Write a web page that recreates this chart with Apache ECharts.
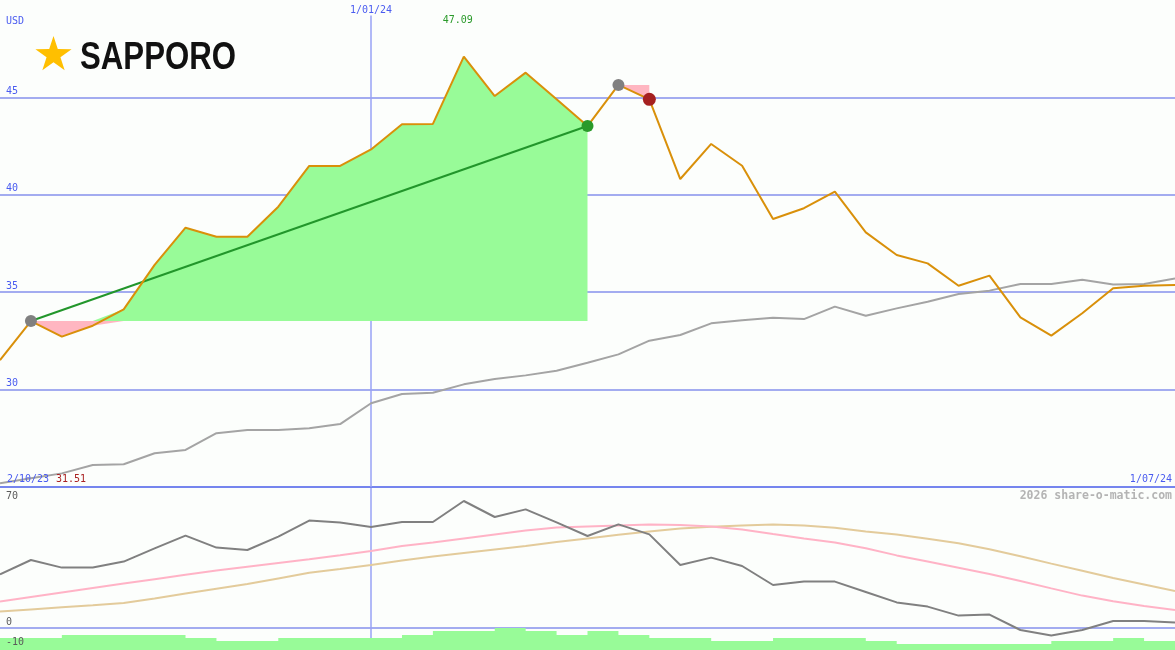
<!DOCTYPE html>
<html><head><meta charset="utf-8">
<script src="https://cdn.jsdelivr.net/npm/echarts@6/dist/echarts.min.js"></script>
<style>html,body{margin:0;padding:0;background:#fcfefc;}#c{width:1175px;height:650px;}</style>
</head><body><div id="c"></div>
<script>
// ---- data ----
const dates = ['2/10/23','9/10/23','16/10/23','23/10/23','30/10/23','6/11/23','13/11/23','20/11/23','27/11/23','4/12/23','11/12/23','18/12/23',
  '1/01/24','8/01/24','15/01/24','22/01/24','29/01/24','5/02/24','12/02/24','19/02/24','26/02/24','4/03/24','11/03/24','18/03/24','25/03/24',
  '1/04/24','8/04/24','15/04/24','22/04/24','29/04/24','6/05/24','13/05/24','20/05/24','27/05/24','3/06/24','10/06/24','17/06/24','24/06/24','1/07/24'];
const price = [31.51,33.52,32.72,33.28,34.12,36.40,38.31,37.85,37.85,39.39,41.48,41.48,42.33,43.62,43.64,47.09,45.07,46.27,44.90,43.53,
  45.64,44.90,40.81,42.61,41.49,38.76,39.31,40.16,38.07,36.91,36.48,35.33,35.85,33.71,32.77,33.92,35.20,35.33,35.37];
const priceAvg = [25.19,25.45,25.70,26.13,26.17,26.73,26.90,27.76,27.93,27.93,28.01,28.23,29.30,29.77,29.84,30.27,30.54,30.73,30.97,31.38,
  31.81,32.51,32.80,33.40,33.56,33.69,33.62,34.26,33.79,34.17,34.51,34.91,35.08,35.42,35.42,35.64,35.39,35.42,35.71];
const osc = [26.8,34.0,30.2,30.2,33.2,39.8,46.2,40.2,39.0,45.7,53.7,52.7,50.5,53.0,53.0,63.5,55.5,59.3,52.8,46.0,
  51.8,46.8,31.5,35.2,31.0,21.5,23.2,23.2,18.0,12.8,10.7,6.2,6.7,-1.0,-3.8,-1.0,3.5,3.5,2.7];
const oscPink = [13.2,15.5,17.8,20.0,22.2,24.4,26.6,28.7,30.6,32.5,34.4,36.4,38.5,41.0,42.7,44.8,46.8,48.7,50.2,50.8,
  51.2,51.8,51.5,50.8,49.3,47.0,44.8,42.8,39.9,36.3,33.2,30.1,27.0,23.5,19.8,16.2,13.4,11.0,9.0];
const oscTan = [8.2,9.3,10.4,11.4,12.5,14.8,17.2,19.6,22.0,24.8,27.6,29.5,31.5,33.8,35.7,37.5,39.3,41.0,43.0,44.8,
  46.6,48.2,49.7,50.6,51.3,51.7,51.2,50.1,48.3,46.7,44.6,42.4,39.4,35.9,32.2,28.6,25.0,21.8,18.5];
const hist = [12,12,15,15,15,15,12,9,9,12,12,12,12,15,19,19,22,19,15,19,15,12,12,9,9,12,12,12,9,6,6,6,6,6,9,9,12,9,9];
const priceTicks = [30,35,40,45];
const oscTickLabels = ['70','0','-10'];
const trades = [{start:1,end:19,win:true},{start:20,end:21,win:false}];
const currency = 'USD';
const brand = 'SAPPORO';
const credit = '2026 share-o-matic.com';

// ---- build ----
const MONO = '"DejaVu Sans Mono", monospace';
const BLUE = '#4a5cf0';
const GRID = '#a3acf0';
const VLINE = '#98a2f6';
const series = [];
// reference lines (under everything)
series.push({type:'line', xAxisIndex:0, yAxisIndex:0, symbol:'none', silent:true, z:1, data:[], lineStyle:{opacity:0},
  markLine:{silent:true, symbol:['none','none'], animation:false, z:1,
    data: priceTicks.map(v=>({yAxis:v, lineStyle:{color:GRID, width:2, type:'solid'}, label:{show:false}})).concat([
      [{coord:[12,25], lineStyle:{color:VLINE, width:1.5, type:'solid'},
        label:{show:true, position:'end', distance:0, formatter:dates[12], color:BLUE, fontFamily:MONO, fontSize:10}},
       {coord:[12,49.2]}]
    ])}});
trades.forEach((t, k) => {
  const lvl = price[t.start];
  const inR = i => i >= t.start && i <= t.end;
  const up = dates.map((d,i)=> inR(i) ? Math.max(price[i]-lvl,0) : '-');
  const upBase = dates.map((d,i)=> inR(i) ? lvl : '-');
  const dnBase = dates.map((d,i)=> inR(i) ? Math.min(price[i],lvl) : '-');
  const dn = dates.map((d,i)=> inR(i) ? lvl - Math.min(price[i],lvl) : '-');
  const base = {type:'line', xAxisIndex:0, yAxisIndex:0, symbol:'none', silent:true, lineStyle:{opacity:0}, z:2};
  series.push(Object.assign({}, base, {name:'ub'+k, stack:'u'+k, data:upBase}));
  series.push(Object.assign({}, base, {name:'u'+k, stack:'u'+k, data:up, areaStyle:{color:'#98fb98', opacity:1}}));
  series.push(Object.assign({}, base, {name:'db'+k, stack:'d'+k, data:dnBase}));
  series.push(Object.assign({}, base, {name:'d'+k, stack:'d'+k, data:dn, areaStyle:{color:'#ffb6c1', opacity:1}}));
  if (t.win) {
    series.push({type:'line', xAxisIndex:0, yAxisIndex:0, symbol:'none', silent:true, connectNulls:true, z:4,
      lineStyle:{color:'#22962b', width:2},
      data: dates.map((d,i)=> i===t.start ? lvl : (i===t.end ? price[i] : '-'))});
  }
});
// upper average (gray)
series.push({type:'line', xAxisIndex:0, yAxisIndex:0, symbol:'none', silent:true, z:3,
  lineStyle:{color:'#a4a4a4', width:2}, data:priceAvg});
// price line
series.push({type:'line', xAxisIndex:0, yAxisIndex:0, symbol:'none', silent:true, z:5,
  lineStyle:{color:'#d9900a', width:2}, data:price,
  markPoint:{symbol:'circle', symbolSize:0, animation:false,
    label:{show:true, color:'#2a9a2a', fontFamily:MONO, fontSize:10, offset:[-6,-36], formatter:p=>p.value.toFixed(2)},
    data:[{type:'max'}]}});
// trade markers
const dot = (pts, color, size) => ({type:'scatter', xAxisIndex:0, yAxisIndex:0, symbolSize:size, silent:true, z:6,
  itemStyle:{color:color, opacity:1}, data:pts});
series.push(dot(trades.map(t=>[t.start, price[t.start]]), '#808080', 12));
series.push(dot([[trades[0].end, price[trades[0].end]]], '#2a9a2a', 12));
series.push(dot([[trades[1].end, price[trades[1].end]]], '#a52020', 13));
// lower panel
series.push({type:'line', xAxisIndex:1, yAxisIndex:1, symbol:'none', silent:true, z:2,
  lineStyle:{color:'#e3cb9b', width:2}, data:oscTan,
  markLine:{silent:true, symbol:['none','none'], animation:false, label:{show:false}, z:1,
    lineStyle:{color:GRID, width:2, type:'solid'}, data:[{yAxis:0}]}});
series.push({type:'line', xAxisIndex:1, yAxisIndex:1, symbol:'none', silent:true, z:3,
  lineStyle:{color:'#ffb3c6', width:2}, data:oscPink,
  markLine:{silent:true, symbol:['none','none'], animation:false, label:{show:false}, z:1,
    lineStyle:{color:VLINE, width:1.5, type:'solid', opacity:1}, data:[{xAxis:12}]}});
series.push({type:'line', xAxisIndex:1, yAxisIndex:1, symbol:'none', silent:true, z:4,
  lineStyle:{color:'#808080', width:2}, data:osc});
series.push({type:'line', xAxisIndex:2, yAxisIndex:2, symbol:'none', silent:true, z:5, step:'end',
  lineStyle:{width:0, opacity:0}, areaStyle:{color:'#98fb98', opacity:1, origin:'start'}, data:hist});

// star logo polygon
const starPts = [];
for (let i=0;i<10;i++){
  const r = i%2===0 ? 19 : 7.3;
  const a = -Math.PI/2 + i*Math.PI/5;
  starPts.push([53.5 + r*Math.cos(a), 55 + r*Math.sin(a)]);
}
const hidden = {show:false};
const option = {
  backgroundColor:'#fcfefc',
  animation:false,
  grid:[
    {left:0, right:0, top:0, height:487},
    {left:0, right:0, top:488, height:160},
    {left:0, right:0, top:600, height:50}
  ],
  xAxis:[
    {gridIndex:0, type:'category', data:dates, boundaryGap:false,
      axisLine:{show:true, onZero:false, lineStyle:{color:'#7585ee', width:2}}, axisTick:hidden, axisLabel:hidden, splitLine:hidden},
    {gridIndex:1, type:'category', data:dates, boundaryGap:false, axisLine:hidden, axisTick:hidden, axisLabel:hidden, splitLine:hidden},
    {gridIndex:2, type:'category', data:dates, boundaryGap:false, axisLine:hidden, axisTick:hidden, axisLabel:hidden, splitLine:hidden}
  ],
  yAxis:[
    {gridIndex:0, type:'value', min:25, max:50, interval:5, axisLine:hidden, axisTick:hidden, splitLine:hidden, z:10,
      axisLabel:{inside:true, margin:6, color:BLUE, fontFamily:MONO, fontSize:10, verticalAlign:'bottom', padding:[0,0,1,0],
        formatter:v=> priceTicks.indexOf(v)>=0 ? String(v) : ''}},
    {gridIndex:1, type:'value', min:-10, max:70, interval:10, axisLine:hidden, axisTick:hidden, splitLine:hidden, z:10,
      axisLabel:{inside:true, margin:6, color:'#5a5a5a', fontFamily:MONO, fontSize:10, verticalAlign:'bottom', padding:[0,0,1,0],
        formatter:v=> (String(v) === oscTickLabels[1]) ? String(v) : ''}},
    {gridIndex:2, type:'value', min:0, max:50, show:false}
  ],
  graphic:[
    {type:'polygon', shape:{points:starPts}, style:{fill:'#ffbf00'}, z:10},
    {type:'text', x:80, y:58, scaleX:0.8, style:{x:0, y:0, text:brand, font:'bold 39px "Liberation Sans", sans-serif', fill:'#111', verticalAlign:'middle'}, z:10},
    {type:'text', x:6, y:21, style:{text:currency, font:'10px '+MONO, fill:BLUE, verticalAlign:'middle'}, z:10},
    {type:'text', x:7, y:479, style:{text:dates[0], font:'10px '+MONO, fill:BLUE, verticalAlign:'middle'}, z:10},
    {type:'text', x:56, y:479, style:{text:Math.min.apply(null, price).toFixed(2), font:'10px '+MONO, fill:'#aa2222', verticalAlign:'middle'}, z:10},
    {type:'text', x:1172, y:479, style:{text:dates[dates.length-1], font:'10px '+MONO, fill:BLUE, align:'right', verticalAlign:'middle'}, z:10},
    {type:'text', x:1172, y:496, style:{text:credit, font:'bold 11.5px '+MONO, fill:'#b4b4b4', align:'right', verticalAlign:'middle'}, z:10},
    {type:'text', x:6, y:496, style:{text:oscTickLabels[0], font:'10px '+MONO, fill:'#5a5a5a', verticalAlign:'middle'}, z:10},
    {type:'text', x:6, y:642, style:{text:oscTickLabels[2], font:'10px '+MONO, fill:'#5a5a5a', verticalAlign:'middle'}, z:10}
  ],
  series:series
};
const chart = echarts.init(document.getElementById('c'), null, {renderer:'canvas'});
chart.setOption(option);
</script>
</body></html>
